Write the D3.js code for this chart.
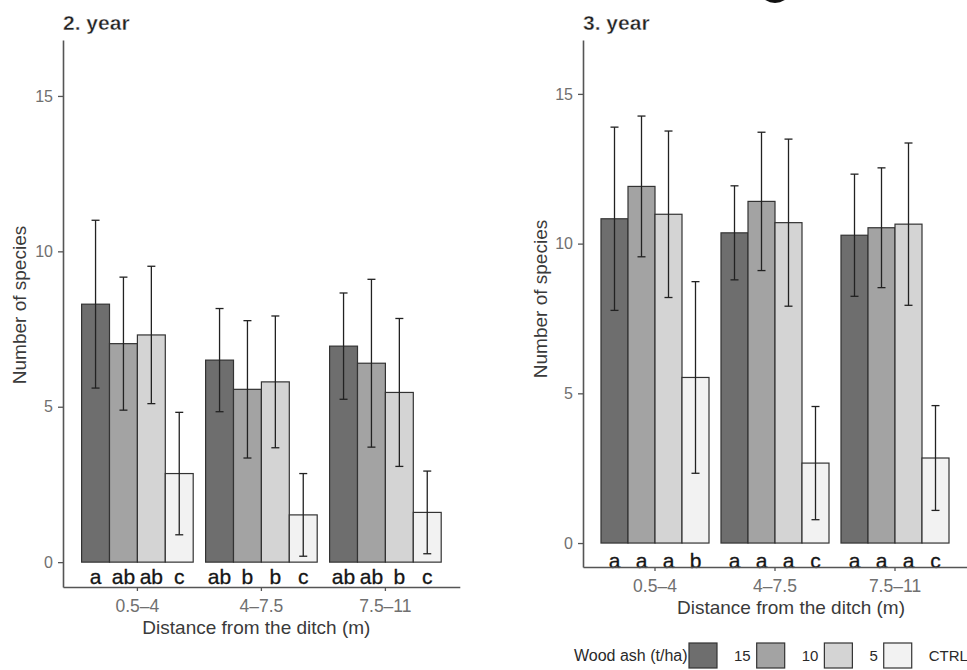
<!DOCTYPE html>
<html>
<head>
<meta charset="utf-8">
<script src="https://cdn.jsdelivr.net/npm/d3@7"></script>
<style>
  html, body { margin: 0; padding: 0; background: #fff; }
  svg { display: block; font-family: "Liberation Sans", Arial, sans-serif; }
</style>
</head>
<body>
<svg id="chart" width="967" height="670"></svg>
<script>
// Species richness by distance from the ditch and wood ash dose
const distances = ["0.5–4", "4–7.5", "7.5–11"];
const doses = ["15", "10", "5", "CTRL"];
const doseFills = ["#6e6e6e", "#a3a3a3", "#d4d4d4", "#f2f2f2"];
const yTicks = [0, 5, 10, 15];

// Year 2: mean number of species, error (±) and significance letters
const year2Mean = [
  [8.3, 7.03, 7.31, 2.85],
  [6.5, 5.56, 5.8, 1.52],
  [6.95, 6.4, 5.46, 1.6]
];
const year2Err = [
  [2.7, 2.14, 2.21, 1.97],
  [1.66, 2.21, 2.12, 1.33],
  [1.71, 2.7, 2.38, 1.33]
];
const year2Letters = [
  ["a", "ab", "ab", "c"],
  ["ab", "b", "b", "c"],
  ["ab", "ab", "b", "c"]
];

// Year 3
const year3Mean = [
  [10.83, 11.91, 10.98, 5.53],
  [10.36, 11.41, 10.7, 2.67],
  [10.28, 10.53, 10.65, 2.84]
];
const year3Err = [
  [3.06, 2.35, 2.78, 3.2],
  [1.57, 2.31, 2.79, 1.89],
  [2.04, 2.0, 2.71, 1.75]
];
const year3Letters = [
  ["a", "a", "a", "b"],
  ["a", "a", "a", "c"],
  ["a", "a", "a", "c"]
];

const svg = d3.select("#chart");

function drawPanel(opt) {
  const g = svg.append("g");
  const x = d3.scaleBand().domain(distances)
    .range([opt.left, opt.right]).paddingInner(0.1).paddingOuter(0.15);
  const xDose = d3.scaleBand().domain(doses).range([0, x.bandwidth()]).padding(0);
  const y = d3.scaleLinear().domain([-0.8, 16.8]).range([opt.bottom, opt.top]);
  const fill = d3.scaleOrdinal().domain(doses).range(doseFills);

  // title
  g.append("text").attr("x", opt.left).attr("y", 30)
    .attr("font-size", 21).attr("font-weight", "bold").attr("fill", "#222")
    .attr("stroke", "#fff").attr("stroke-width", 0.4)
    .text(opt.title);

  // flattened records
  const recs = [];
  distances.forEach((d, i) => doses.forEach((s, j) => {
    recs.push({ dist: d, dose: s, mean: opt.mean[i][j], err: opt.err[i][j], letter: opt.letters[i][j] });
  }));

  const bx = r => x(r.dist) + xDose(r.dose);

  g.selectAll("rect.bar").data(recs).join("rect")
    .attr("class", "bar")
    .attr("x", bx)
    .attr("width", xDose.bandwidth())
    .attr("y", r => y(r.mean))
    .attr("height", r => y(0) - y(r.mean))
    .attr("fill", r => fill(r.dose))
    .attr("stroke", "#333").attr("stroke-width", 1.2);

  // error bars
  const eb = g.selectAll("g.err").data(recs).join("g").attr("class", "err")
    .attr("stroke", "#222").attr("stroke-width", 1.3);
  const cx = r => bx(r) + xDose.bandwidth() / 2;
  eb.append("line")
    .attr("x1", cx).attr("x2", cx)
    .attr("y1", r => y(r.mean + r.err)).attr("y2", r => y(r.mean - r.err));
  eb.append("line")
    .attr("x1", r => cx(r) - 4).attr("x2", r => cx(r) + 4)
    .attr("y1", r => y(r.mean + r.err)).attr("y2", r => y(r.mean + r.err));
  eb.append("line")
    .attr("x1", r => cx(r) - 4).attr("x2", r => cx(r) + 4)
    .attr("y1", r => y(r.mean - r.err)).attr("y2", r => y(r.mean - r.err));

  // significance letters
  g.selectAll("text.letter").data(recs).join("text")
    .attr("class", "letter")
    .attr("x", cx).attr("y", opt.letterY)
    .attr("text-anchor", "middle").attr("font-size", 21).attr("fill", "#151515")
    .attr("stroke", "#151515").attr("stroke-width", 0.3)
    .text(r => r.letter);

  // axes
  const yAxis = g.append("g").attr("transform", `translate(${opt.left},0)`)
    .call(d3.axisLeft(y).tickValues(yTicks).tickSize(5).tickSizeOuter(0).tickPadding(5));
  const xAxis = g.append("g").attr("transform", `translate(0,${opt.bottom})`)
    .call(d3.axisBottom(x).tickSize(4).tickSizeOuter(0).tickPadding(9));
  [yAxis, xAxis].forEach(a => {
    a.select(".domain").attr("stroke", "#555").attr("stroke-width", 1.6);
    a.selectAll(".tick line").attr("stroke", "#555").attr("stroke-width", 1.3);
    a.selectAll(".tick text").attr("fill", "#707070").attr("font-family", null);
  });
  yAxis.selectAll(".tick text").attr("font-size", 16);
  xAxis.selectAll(".tick text").attr("font-size", 17.5);
  yAxis.attr("font-size", null); xAxis.attr("font-size", null);

  // axis titles
  g.append("text")
    .attr("transform", `translate(${opt.yTitleX},${opt.yTitleY}) rotate(-90)`)
    .attr("text-anchor", "middle").attr("font-size", 19).attr("fill", "#3a3a3a")
    .text("Number of species");
  g.append("text")
    .attr("x", (opt.left + opt.right) / 2 + opt.xTitleShift).attr("y", opt.xTitleY)
    .attr("text-anchor", "middle").attr("font-size", 19).attr("fill", "#3a3a3a")
    .text("Distance from the ditch (m)");
}

drawPanel({
  title: "2. year", left: 63, right: 459.8, top: 40, bottom: 587,
  mean: year2Mean, err: year2Err, letters: year2Letters,
  letterY: 584, yTitleX: 26, yTitleY: 305, xTitleY: 634, xTitleShift: -5
});

drawPanel({
  title: "3. year", left: 583, right: 967, top: 40, bottom: 567,
  mean: year3Mean, err: year3Err, letters: year3Letters,
  letterY: 568, yTitleX: 547, yTitleY: 299, xTitleY: 614, xTitleShift: 16
});

// legend
const leg = svg.append("g");
leg.append("text").attr("x", 574).attr("y", 661)
  .attr("font-size", 16).attr("fill", "#2a2a2a").text("Wood ash (t/ha)");
let lx = 689;
doses.forEach((s, j) => {
  leg.append("rect").attr("x", lx).attr("y", 643).attr("width", 28).attr("height", 25)
    .attr("fill", doseFills[j]).attr("stroke", "#333").attr("stroke-width", 1.2);
  lx += 28 + 17;
  const t = leg.append("text").attr("x", lx).attr("y", 661)
    .attr("font-size", 15).attr("fill", "#2a2a2a").text(s);
  lx += t.node().getComputedTextLength() + 6;
});

// dark edge of a glyph cut off at the top border
svg.append("ellipse").attr("cx", 775).attr("cy", -6).attr("rx", 13).attr("ry", 9).attr("fill", "#111");
</script>
</body>
</html>
